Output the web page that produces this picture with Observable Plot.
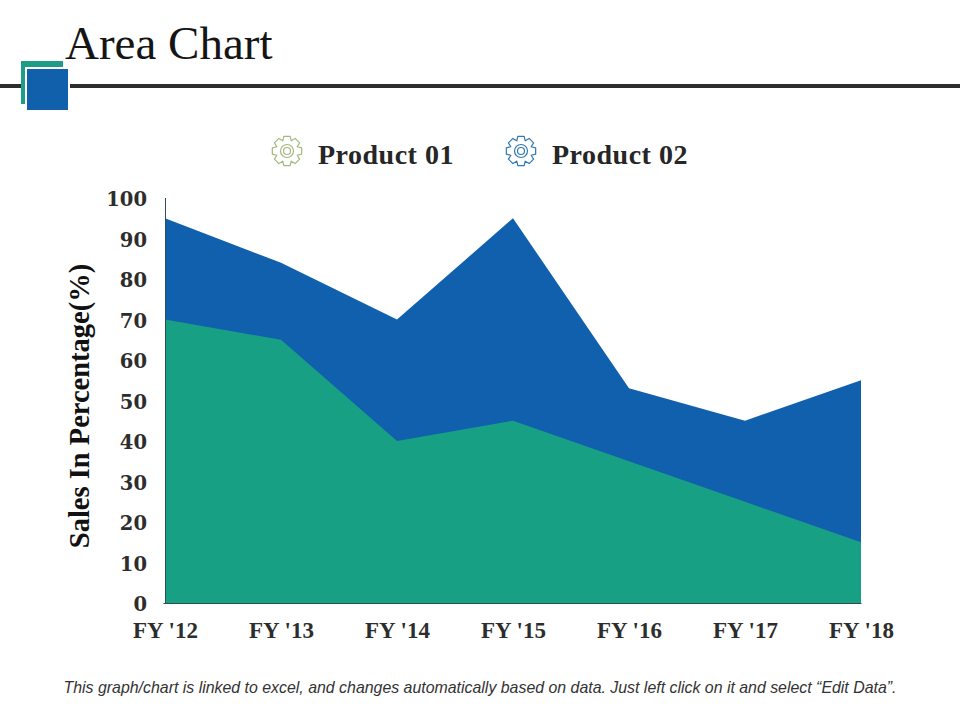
<!DOCTYPE html>
<html>
<head>
<meta charset="utf-8">
<script src="https://cdn.jsdelivr.net/npm/d3@7"></script>
<script src="https://cdn.jsdelivr.net/npm/@observablehq/plot@0.6"></script>
<style>
  html, body { margin: 0; padding: 0; background: #fff; }
  #page { position: relative; width: 960px; height: 720px; overflow: hidden; font-family: "Liberation Serif", serif; }
  #page > * { position: absolute; }
  #title { left: 65px; top: 16px; font-size: 47px; line-height: 54px; color: #151515; }
  #headRule { left: 0; top: 84px; width: 960px; height: 4px; background: #2d2d2d; }
  #sq1 { left: 21px; top: 61px; width: 42px; height: 43px; background: #1f9c85; }
  #sq2 { left: 25px; top: 67px; width: 41px; height: 41px; background: #1160ac; border: 2px solid #fff; }
  .leg { top: 139px; font-size: 28px; line-height: 32px; font-weight: 700; color: #262626; letter-spacing: .5px; }
  .gear { width: 34px; height: 34px; top: 134px; }
  #foot { left: 0; width: 960px; text-align: center; top: 679px; font: italic 15.9px "Liberation Sans", sans-serif; color: #333; }
  #chart { left: 0; top: 0; }
  #chart svg { display: block; }
</style>
</head>
<body>
<div id="page">
  <div id="chart"></div>
  <div id="title">Area Chart</div>
  <div id="headRule"></div>
  <div id="sq1"></div>
  <div id="sq2"></div>
  <svg class="gear" id="g1" style="left:270px" viewBox="-17 -17 34 34"></svg>
  <div class="leg" style="left:318px">Product 01</div>
  <svg class="gear" id="g2" style="left:504px" viewBox="-17 -17 34 34"></svg>
  <div class="leg" style="left:552px">Product 02</div>
  <div id="foot">This graph/chart is linked to excel, and changes automatically based on data. Just left click on it and select “Edit Data”.</div>
</div>
<script>
const categories = ["FY '12", "FY '13", "FY '14", "FY '15", "FY '16", "FY '17", "FY '18"];
const product01 = [70, 65, 40, 45, 35, 25, 15];
const product02 = [95, 84, 70, 95, 53, 45, 55];
const yTicks = [0, 10, 20, 30, 40, 50, 60, 70, 80, 90, 100];

const rows01 = categories.map((c, i) => ({c, v: product01[i]}));
const rows02 = categories.map((c, i) => ({c, v: product02[i]}));

const chart = Plot.plot({
  width: 960,
  height: 720,
  marginLeft: 163.5,
  marginRight: 98.5,
  marginTop: 198,
  marginBottom: 117,
  style: {fontFamily: '"Liberation Serif", serif', background: "transparent", overflow: "visible"},
  x: {type: "point", domain: categories, padding: 0},
  y: {domain: [0, 100]},
  marks: [
    Plot.areaY(rows02, {x: "c", y: "v", fill: "#1160ad", curve: "linear"}),
    Plot.areaY(rows01, {x: "c", y: "v", fill: "#18a084", curve: "linear"}),
    Plot.axisY({
      ticks: yTicks, tickSize: 0, tickPadding: 17, fontSize: 19.5, fontWeight: 700, fill: "#2d2d2d",
      fontFamily: '"DejaVu Serif", serif', dy: 1.5,
      label: "Sales In Percentage(%)", labelAnchor: "center", labelArrow: "none", labelOffset: 90
    }),
    Plot.axisX({
      tickSize: 0, tickPadding: 18, fontSize: 23, fontWeight: 700, fill: "#2d2d2d", label: null
    }),
    Plot.ruleX([categories[0]], {stroke: "#2f4f4f", strokeWidth: 1}),
    Plot.ruleY([0], {stroke: "#2f4f4f", strokeWidth: 1})
  ]
});
document.getElementById("chart").appendChild(chart);

// y-axis title styling and placement
d3.select(chart).selectAll("g[aria-label='y-axis label']")
  .style("font-size", "28.5px").style("font-weight", "700").style("fill", "#111")
  .style("font-family", '"Liberation Serif", serif')
  .attr("transform", function () {
    return (this.getAttribute("transform") || "") + " translate(-5,5)";
  });

// legend gears
function gear(id, color) {
  const s = d3.select("#" + id), teeth = 8, pts = [];
  for (let i = 0; i < teeth; i++) {
    const a = i * 2 * Math.PI / teeth, w = 2 * Math.PI / teeth;
    [[11, -.5], [15, -.27], [15, .27], [11, .5]].forEach(([r, o]) => {
      const t = a + o * w;
      pts.push([r * Math.sin(t), -r * Math.cos(t)]);
    });
  }
  s.append("path").attr("d", "M" + pts.map(p => p.join(",")).join("L") + "Z")
    .attr("fill", "none").attr("stroke", color).attr("stroke-width", 1.2).attr("stroke-linejoin", "round");
  [6.5, 3.5].forEach(r => s.append("circle").attr("r", r).attr("fill", "none").attr("stroke", color).attr("stroke-width", 1.2));
}
gear("g1", "#a3b97f");
gear("g2", "#2f78b4");
</script>
</body>
</html>
